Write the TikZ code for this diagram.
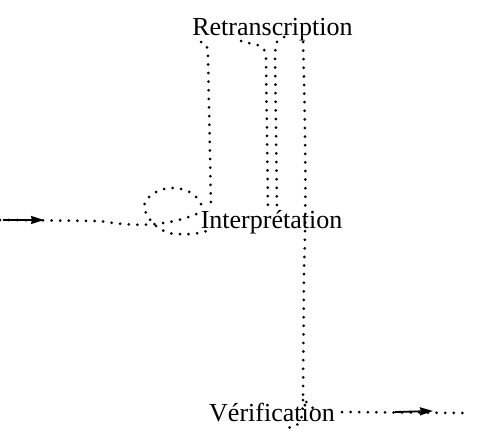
\documentclass[tikz,border=0pt]{standalone}
\usepackage{fontspec}
\setmainfont{Liberation Serif}
\usetikzlibrary{arrows.meta}
\begin{document}
\begin{tikzpicture}[x=1pt,y=-1pt,
  lbl/.style={inner sep=0pt,anchor=base,font=\fontsize{26}{30}\selectfont},
  dotline/.style={draw=black,line width=3pt,line cap=round,dash pattern=on 0pt off 8.6pt},
  arrowpart/.style={draw=black,line width=1.8pt,-{Stealth[length=13pt,width=8pt,inset=1pt]}}]
\path[use as bounding box] (0,0) rectangle (492,431);
\node[lbl] (R) at (272.5,35) {Retranscription};
\node[lbl] (I) at (271.5,228) {Interprétation};
\node[lbl] (V) at (272,421) {Vérification};
% free ends
\coordinate (in) at (0,220);
\coordinate (out) at (470,413);
% input edge
\draw[dotline] (in) -- (100,221) .. controls (135,227) and (170,227) .. (203,211);
\draw[arrowpart] (3,220) -- (44,220);
% self loop on Interpretation
\draw[dotline] (201,204) .. controls (192,184) and (158,182) .. (145,202)
  .. controls (141,212) and (155,232) .. (175,234)
  .. controls (192,235) and (203,233) .. (209,230);
% left vertical Retranscription - Interpretation
\draw[dotline] (201,42) .. controls (207,44) .. (208,56) -- (211,207);
% pair of close verticals
\draw[dotline] (241,41) .. controls (258,46) and (265,43) .. (266,58) -- (268,213);
\draw[dotline] (284,37) .. controls (276,41) .. (275,54) -- (277,213);
% long vertical Retranscription - Verification
\draw[dotline] (303,42) .. controls (306,150) and (306,220) .. (304,270) -- (303,398)
  .. controls (307,403) .. (313,408);
\draw[dotline] (303,400) .. controls (302,420) .. (296,426) -- (287,428);
% output edge
\draw[dotline] (342,412) -- (out);
\draw[arrowpart] (395,412) -- (433,411);
\end{tikzpicture}
\end{document}
